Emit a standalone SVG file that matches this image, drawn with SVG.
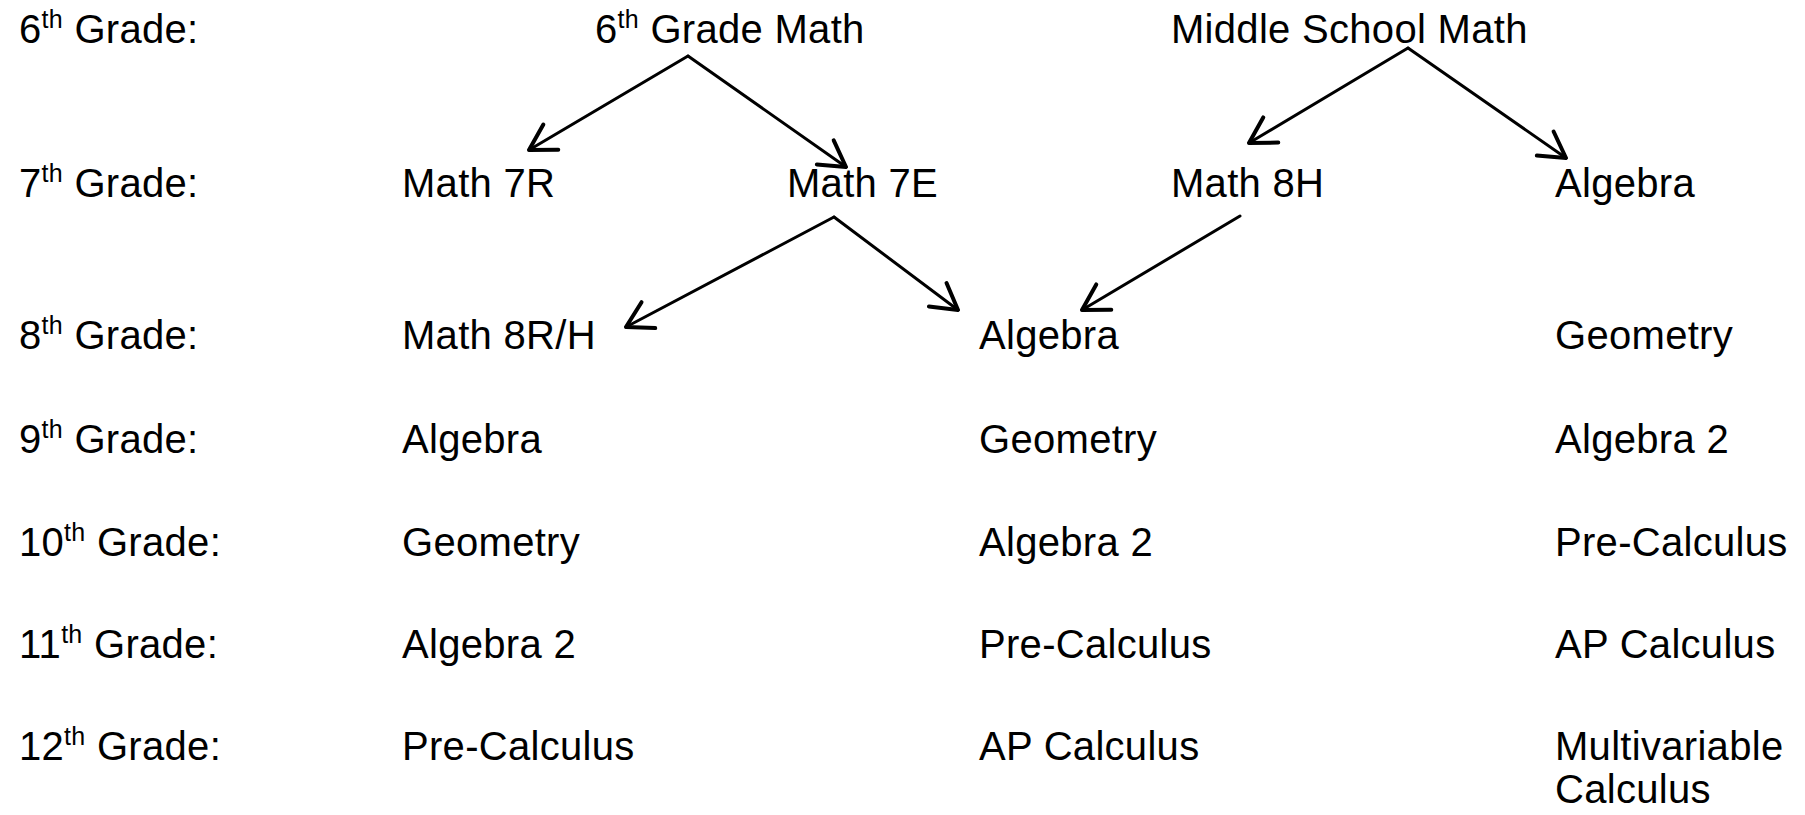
<svg xmlns="http://www.w3.org/2000/svg" width="1805" height="815" viewBox="0 0 1805 815">
<style>
text{font-family:"Liberation Sans",Arial,sans-serif;font-size:40px;letter-spacing:0.3px;fill:#000}
.sup{font-size:25px}
.c{fill:none;stroke:#000;stroke-width:3;stroke-linecap:round}
</style>
<defs>
<marker id="ah" markerUnits="userSpaceOnUse" markerWidth="40" markerHeight="40" refX="0" refY="0" viewBox="-25 -15 30 30" orient="auto" overflow="visible">
<path d="M-19,-11 L0,0 L-19,11" fill="none" stroke="#000" stroke-width="3" stroke-linecap="round" stroke-linejoin="round"/>
</marker>
</defs>
<rect width="1805" height="815" fill="#fff"/>
<g id="grade-labels">
<text x="19" y="43">6<tspan class="sup" dy="-15">th</tspan><tspan dy="15"> Grade:</tspan></text>
<text x="19" y="197">7<tspan class="sup" dy="-15">th</tspan><tspan dy="15"> Grade:</tspan></text>
<text x="19" y="349">8<tspan class="sup" dy="-15">th</tspan><tspan dy="15"> Grade:</tspan></text>
<text x="19" y="453">9<tspan class="sup" dy="-15">th</tspan><tspan dy="15"> Grade:</tspan></text>
<text x="19" y="556">10<tspan class="sup" dy="-15">th</tspan><tspan dy="15"> Grade:</tspan></text>
<text x="19" y="658">11<tspan class="sup" dy="-15">th</tspan><tspan dy="15"> Grade:</tspan></text>
<text x="19" y="760">12<tspan class="sup" dy="-15">th</tspan><tspan dy="15"> Grade:</tspan></text>
</g>
<g id="n-6math"><text x="595" y="43">6<tspan class="sup" dy="-15">th</tspan><tspan dy="15"> Grade Math</tspan></text></g>
<g id="n-msmath"><text x="1171" y="43">Middle School Math</text></g>
<g id="n-math7r"><text x="402" y="197">Math 7R</text></g>
<g id="n-math7e"><text x="787" y="197">Math 7E</text></g>
<g id="n-math8h"><text x="1171" y="197">Math 8H</text></g>
<g id="n-alg7"><text x="1555" y="197">Algebra</text></g>
<g id="n-math8rh"><text x="402" y="349">Math 8R/H</text></g>
<g id="n-alg8"><text x="979" y="349">Algebra</text></g>
<g id="n-geo8"><text x="1555" y="349">Geometry</text></g>
<g id="n-c1-9"><text x="402" y="453">Algebra</text></g>
<g id="n-c1-10"><text x="402" y="556">Geometry</text></g>
<g id="n-c1-11"><text x="402" y="658">Algebra 2</text></g>
<g id="n-c1-12"><text x="402" y="760">Pre-Calculus</text></g>
<g id="n-c2-9"><text x="979" y="453">Geometry</text></g>
<g id="n-c2-10"><text x="979" y="556">Algebra 2</text></g>
<g id="n-c2-11"><text x="979" y="658">Pre-Calculus</text></g>
<g id="n-c2-12"><text x="979" y="760">AP Calculus</text></g>
<g id="n-c3-9"><text x="1555" y="453">Algebra 2</text></g>
<g id="n-c3-10"><text x="1555" y="556">Pre-Calculus</text></g>
<g id="n-c3-11"><text x="1555" y="658">AP Calculus</text></g>
<g id="n-c3-12"><text x="1555" y="760">Multivariable</text><text x="1555" y="803">Calculus</text></g>
<g id="connectors">
<line class="c" x1="688" y1="56" x2="529" y2="150" marker-end="url(#ah)"/>
<line class="c" x1="688" y1="56" x2="846" y2="167" marker-end="url(#ah)"/>
<line class="c" x1="1408" y1="48" x2="1249" y2="143" marker-end="url(#ah)"/>
<line class="c" x1="1408" y1="48" x2="1566" y2="158" marker-end="url(#ah)"/>
<line class="c" x1="834" y1="217" x2="626" y2="327" marker-end="url(#ah)"/>
<line class="c" x1="834" y1="217" x2="958" y2="310" marker-end="url(#ah)"/>
<line class="c" x1="1240" y1="216" x2="1082" y2="310" marker-end="url(#ah)"/>
</g>
</svg>
